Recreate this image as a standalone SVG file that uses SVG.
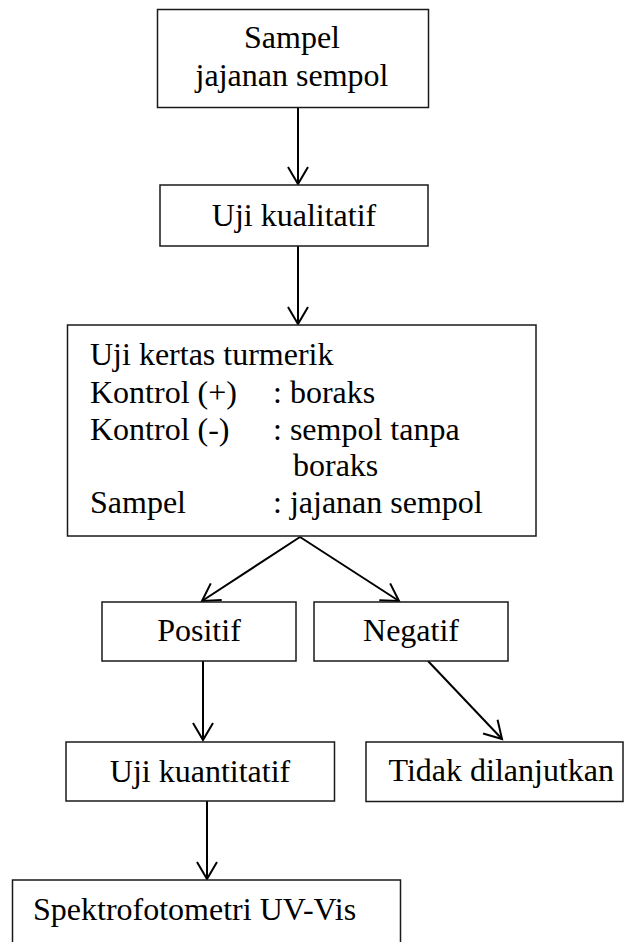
<svg xmlns="http://www.w3.org/2000/svg" width="624" height="942" viewBox="0 0 624 942">
<style>
.box{fill:#fff;stroke:#1a1a1a;stroke-width:1.5}
.t{font-family:"Liberation Serif","Times New Roman",serif;font-size:32px;fill:#000}
.c{text-anchor:middle}
.ln{stroke:#000;stroke-width:2;fill:none}
</style>
<defs>
<marker id="ah" markerUnits="userSpaceOnUse" markerWidth="40" markerHeight="40" viewBox="-20 -20 40 40" refX="0" refY="0" orient="auto">
<path d="M-17,-10 L0,0 L-17,10" fill="none" stroke="#000" stroke-width="2"/>
</marker>
</defs>
<g id="connectors">
<line class="ln" x1="298" y1="107" x2="298" y2="184" marker-end="url(#ah)"/>
<line class="ln" x1="298" y1="246" x2="298" y2="324" marker-end="url(#ah)"/>
<line class="ln" x1="300" y1="537" x2="202" y2="601" marker-end="url(#ah)"/>
<line class="ln" x1="300" y1="537" x2="399" y2="601" marker-end="url(#ah)"/>
<line class="ln" x1="203" y1="661" x2="203" y2="740" marker-end="url(#ah)"/>
<line class="ln" x1="428" y1="661" x2="502" y2="739" marker-end="url(#ah)"/>
<line class="ln" x1="207" y1="801" x2="207" y2="879" marker-end="url(#ah)"/>
</g>
<g id="sampel">
<rect class="box" x="157.5" y="9.5" width="271" height="98"/>
<text class="t c" x="292" y="47.5">Sampel</text>
<text class="t c" x="292" y="86">jajanan sempol</text>
</g>
<g id="kualitatif">
<rect class="box" x="160" y="185" width="268" height="61"/>
<text class="t c" x="294" y="226">Uji kualitatif</text>
</g>
<g id="turmerik">
<rect class="box" x="67.5" y="325" width="468.5" height="211"/>
<text class="t" x="90" y="365">Uji kertas turmerik</text>
<text class="t" x="90" y="402.5">Kontrol (+)</text>
<text class="t" x="273" y="402.5">: boraks</text>
<text class="t" x="90" y="439.5">Kontrol (-)</text>
<text class="t" x="273" y="439.5">: sempol tanpa</text>
<text class="t" x="293" y="476">boraks</text>
<text class="t" x="90" y="513">Sampel</text>
<text class="t" x="273" y="513">: jajanan sempol</text>
</g>
<g id="positif">
<rect class="box" x="102" y="602" width="194" height="59"/>
<text class="t c" x="199" y="640.5">Positif</text>
</g>
<g id="negatif">
<rect class="box" x="314" y="602" width="194" height="59"/>
<text class="t c" x="411" y="640.5">Negatif</text>
</g>
<g id="kuantitatif">
<rect class="box" x="66" y="742" width="268.5" height="59"/>
<text class="t c" x="200" y="781.5">Uji kuantitatif</text>
</g>
<g id="tidak">
<rect class="box" x="366" y="742" width="257" height="59.5"/>
<text class="t" x="388.5" y="780.5">Tidak dilanjutkan</text>
</g>
<g id="spektro">
<rect class="box" x="12.5" y="880" width="388" height="80"/>
<text class="t" x="33" y="920">Spektrofotometri UV-Vis</text>
</g>
</svg>
